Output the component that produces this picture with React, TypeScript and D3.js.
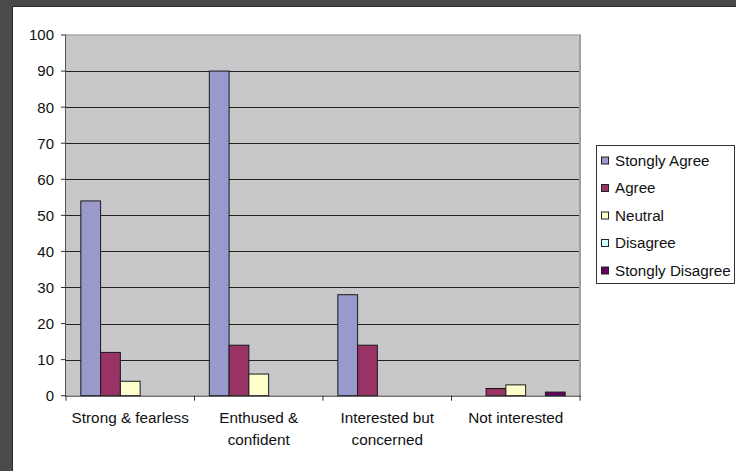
import React from "react";
import * as d3 from "d3";

const categories: string[][] = [
  ["Strong & fearless"],
  ["Enthused &", "confident"],
  ["Interested but", "concerned"],
  ["Not interested"],
];
const seriesNames = ["Stongly Agree", "Agree", "Neutral", "Disagree", "Stongly Disagree"];
const seriesColors = ["#9999CC", "#993366", "#FFFFCC", "#CCFFFF", "#660066"];
const stronglyAgree = [54, 90, 28, 0];
const agree = [12, 14, 14, 2];
const neutral = [4, 6, 0, 3];
const disagree = [0, 0, 0, 0];
const stronglyDisagree = [0, 0, 0, 1];
const seriesValues = [stronglyAgree, agree, neutral, disagree, stronglyDisagree];
const yTicks = [0, 10, 20, 30, 40, 50, 60, 70, 80, 90, 100];

const W = 736;
const H = 471;
const plot = { left: 66, right: 580, top: 35, bottom: 395.7 };
const font = "'Liberation Sans', Arial, sans-serif";

export default function App() {
  const x = d3
    .scaleBand<number>()
    .domain(categories.map((_, i) => i))
    .range([plot.left, plot.right])
    .paddingInner(0)
    .paddingOuter(0);
  const cw = x.bandwidth();
  const barW = cw / 6.5;
  const inner = d3
    .scaleBand<number>()
    .domain(seriesNames.map((_, i) => i))
    .range([barW * 0.75, barW * 5.75])
    .padding(0);
  const y = d3.scaleLinear().domain([0, 100]).range([plot.bottom, plot.top]);

  return (
    <svg
      width={W}
      height={H}
      style={{ position: "absolute", left: 0, top: 0, fontFamily: font }}
    >
      {/* window frame */}
      <rect x={0} y={0} width={W} height={H} fill="#ffffff" />
      <rect x={0} y={0} width={W} height={6} fill="#4a4a4a" />
      <rect x={0} y={0} width={12} height={H} fill="#4a4a4a" />
      <line x1={12.5} y1={6} x2={12.5} y2={H} stroke="#2a2a2a" strokeWidth={1} />
      <line x1={12} y1={6.5} x2={W} y2={6.5} stroke="#2a2a2a" strokeWidth={1} />

      {/* plot area */}
      <rect
        x={plot.left}
        y={plot.top}
        width={plot.right - plot.left}
        height={plot.bottom - plot.top}
        fill="#C8C8CA"
      />
      {yTicks
        .filter((t) => t > 0 && t < 100)
        .map((t) => (
          <line
            key={"g" + t}
            x1={plot.left}
            x2={plot.right}
            y1={Math.round(y(t)) + 0.5}
            y2={Math.round(y(t)) + 0.5}
            stroke="#222"
            strokeWidth={1}
          />
        ))}
      {/* top & right border */}
      <line x1={plot.left} x2={plot.right + 1} y1={plot.top} y2={plot.top} stroke="#a8a8a8" strokeWidth={1.5} />
      <line x1={plot.right} x2={plot.right} y1={plot.top} y2={plot.bottom} stroke="#a0a0a0" strokeWidth={2} />

      {/* bars */}
      {seriesValues.map((vals, s) =>
        vals.map((v, c) =>
          v > 0 ? (
            <rect
              key={`b${s}-${c}`}
              x={(x(c) as number) + (inner(s) as number)}
              y={y(v)}
              width={inner.bandwidth()}
              height={plot.bottom - y(v)}
              fill={seriesColors[s]}
              stroke="#1a1a1a"
              strokeWidth={1}
            />
          ) : null
        )
      )}

      {/* y axis */}
      <line x1={plot.left - 0.5} x2={plot.left - 0.5} y1={plot.top} y2={plot.bottom} stroke="#555" strokeWidth={1} />
      {yTicks.map((t) => (
        <g key={"t" + t}>
          <line x1={plot.left - 5} x2={plot.left} y1={y(t)} y2={y(t)} stroke="#333" strokeWidth={1} />
          <text
            x={54}
            y={y(t)}
            dy="0.36em"
            textAnchor="end"
            fontSize={15}
            fill="#111"
          >
            {t}
          </text>
        </g>
      ))}

      {/* x axis */}
      <line x1={plot.left - 1} x2={plot.right + 1} y1={plot.bottom + 0.5} y2={plot.bottom + 0.5} stroke="#333" strokeWidth={1} />
      {categories.map((_, i) => (
        <line
          key={"xt" + i}
          x1={(x(i) as number)}
          x2={(x(i) as number)}
          y1={plot.bottom}
          y2={plot.bottom + 5}
          stroke="#333"
          strokeWidth={1}
        />
      ))}
      <line x1={plot.right} x2={plot.right} y1={plot.bottom} y2={plot.bottom + 5} stroke="#333" strokeWidth={1} />
      {categories.map((lines, i) => (
        <text
          key={"xl" + i}
          x={(x(i) as number) + cw / 2}
          y={423}
          textAnchor="middle"
          fontSize={15.3}
          fill="#111"
        >
          {lines.map((l, k) => (
            <tspan key={k} x={(x(i) as number) + cw / 2} dy={k === 0 ? 0 : 22}>
              {l}
            </tspan>
          ))}
        </text>
      ))}

      {/* legend */}
      <rect x={596.5} y={145.5} width={138} height={138} fill="#fff" stroke="#333" strokeWidth={1} />
      {seriesNames.map((n, i) => {
        const cy = 160.5 + i * 27.5;
        return (
          <g key={"lg" + i}>
            <rect x={601.5} y={cy - 3.5} width={7} height={7} fill={seriesColors[i]} stroke="#222" strokeWidth={1} />
            <text x={615} y={cy} dy="0.36em" fontSize={15.2} fill="#111">
              {n}
            </text>
          </g>
        );
      })}
    </svg>
  );
}
